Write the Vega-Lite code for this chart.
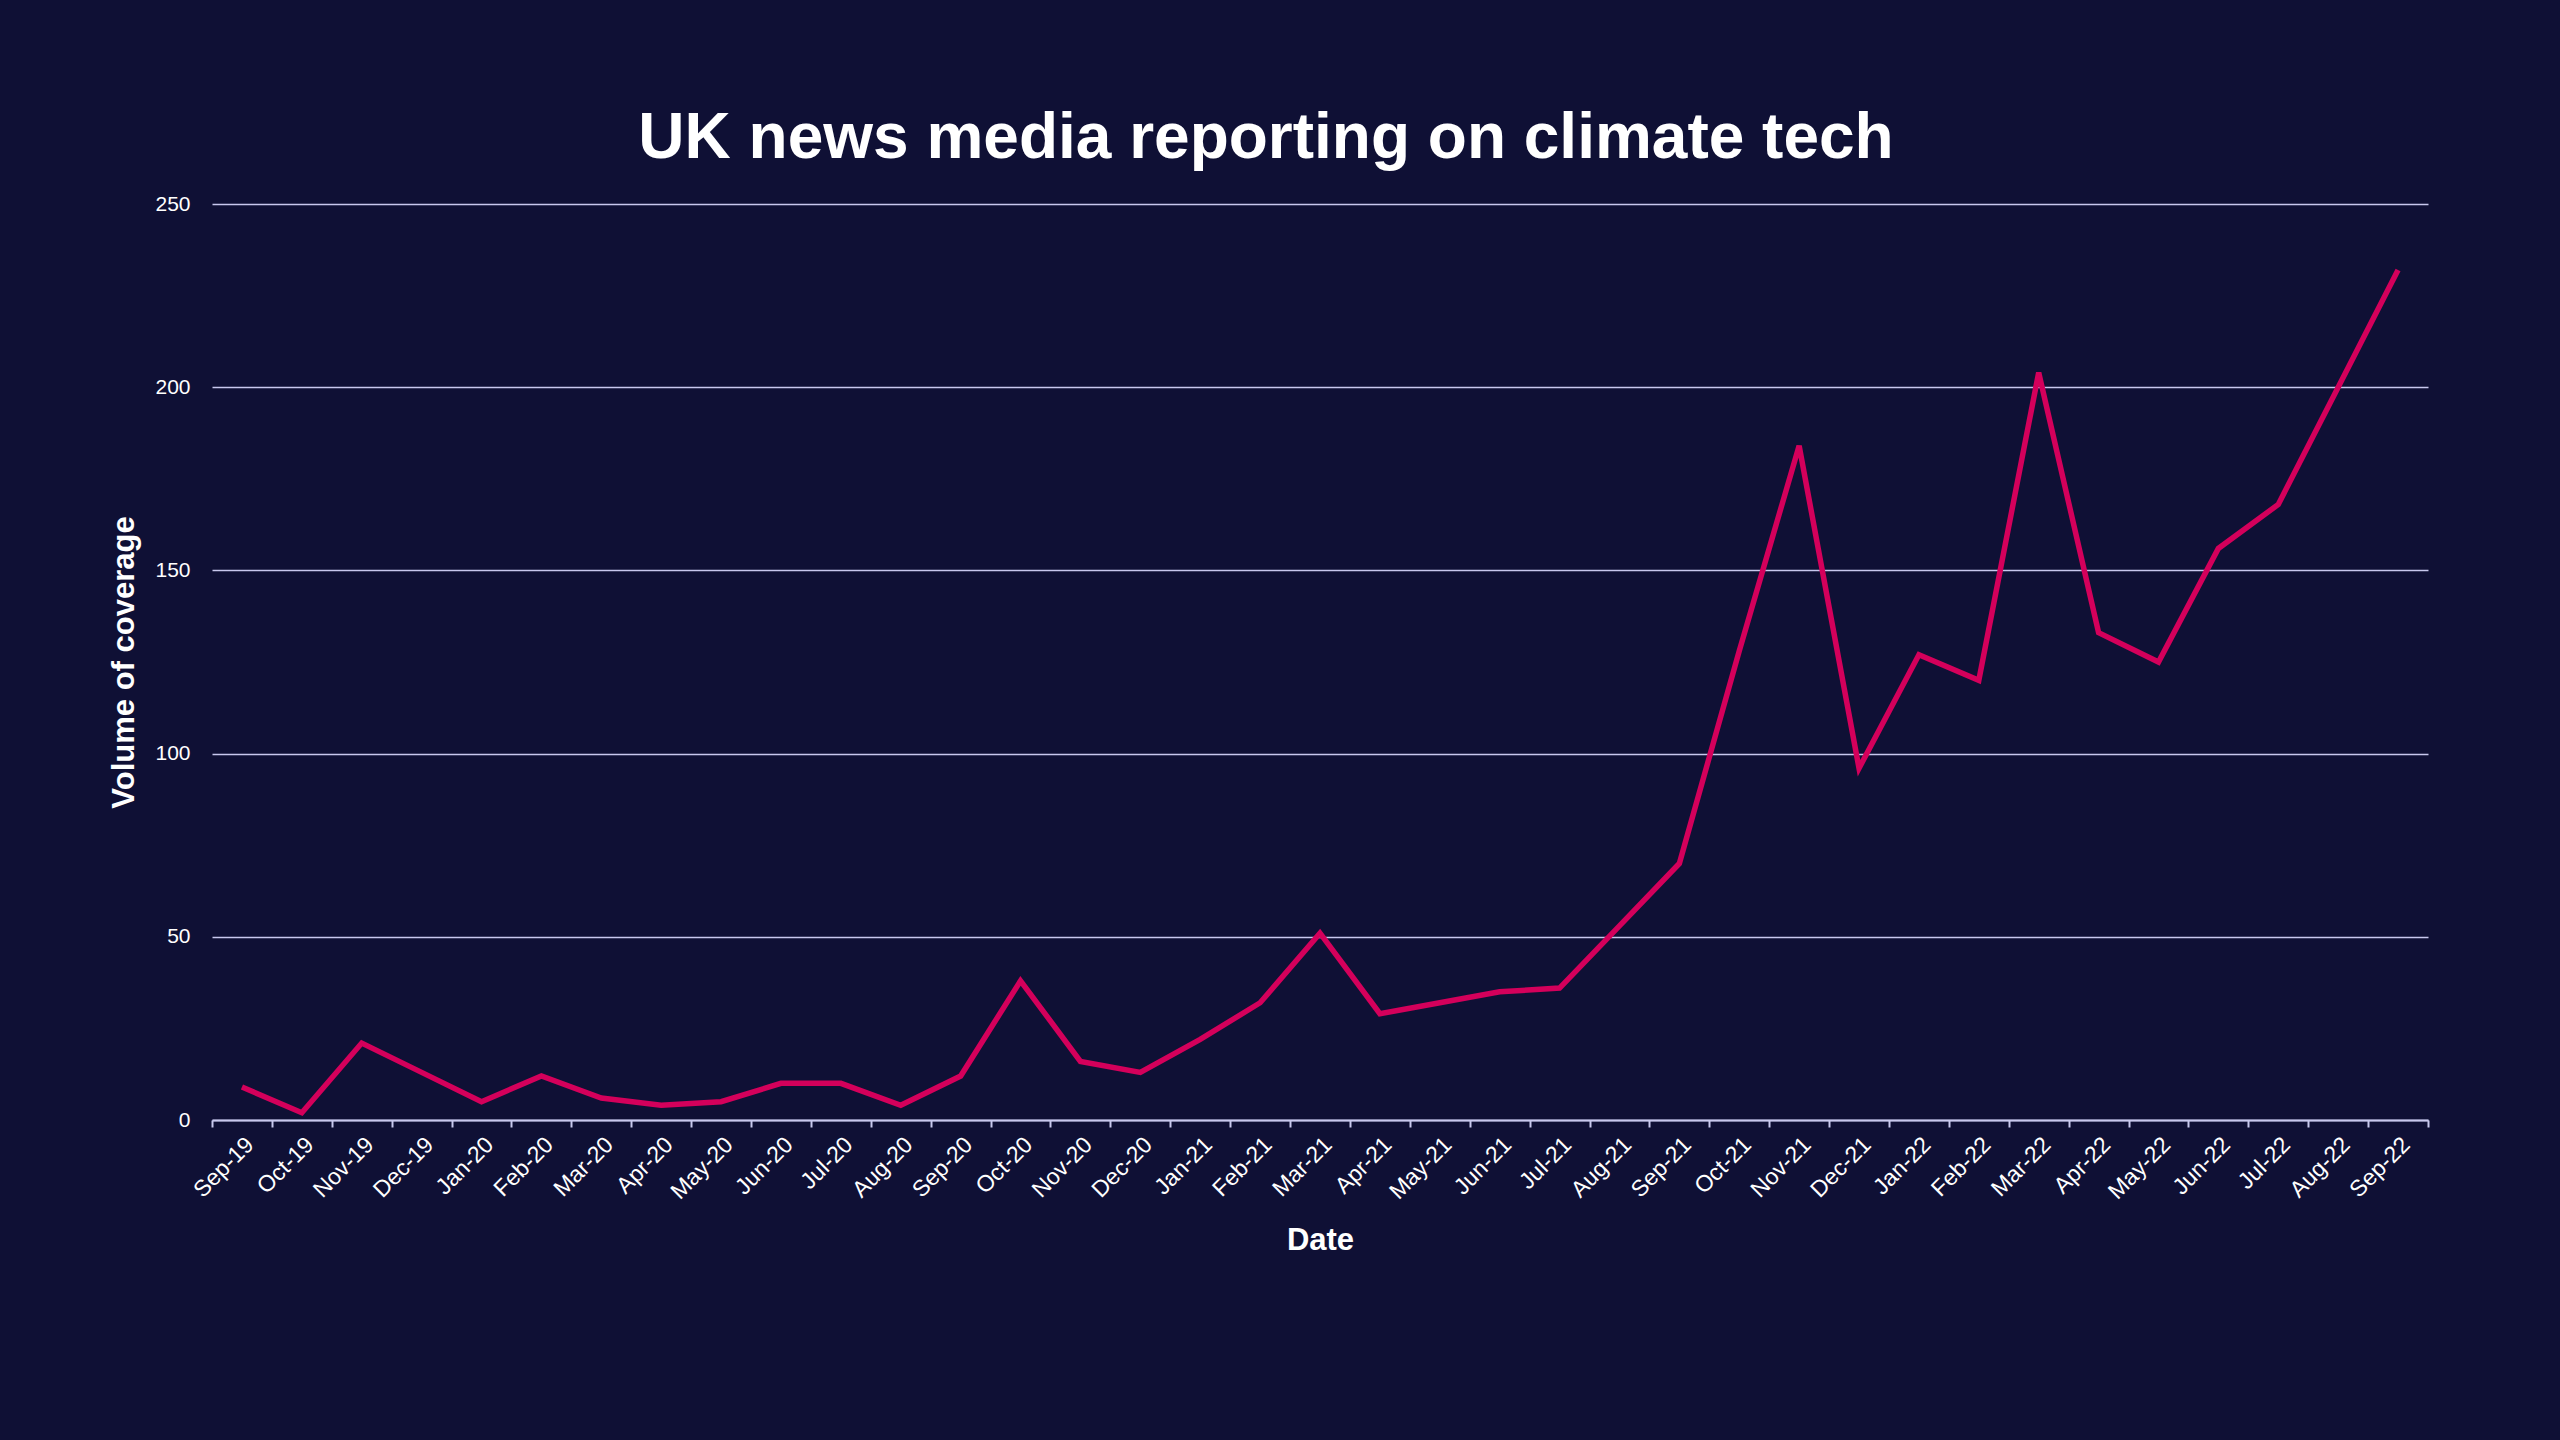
{
  "$schema": "https://vega.github.io/schema/vega-lite/v6.json",
  "background": "#0f1035",
  "autosize": "none",
  "padding": {"left": 212, "top": 204, "right": 132, "bottom": 320},
  "width": 2216,
  "height": 916,
  "title": {
    "text": "UK news media reporting on climate tech",
    "font": "Liberation Sans",
    "fontSize": 64,
    "fontWeight": "bold",
    "color": "#ffffff",
    "anchor": "middle",
    "frame": "group",
    "dx": -54,
    "dy": 74,
    "baseline": "alphabetic",
    "offset": 45
  },
  "data": {
    "values": [
      {"month": "Sep-19", "volume": 9},
      {"month": "Oct-19", "volume": 2},
      {"month": "Nov-19", "volume": 21},
      {"month": "Dec-19", "volume": 13},
      {"month": "Jan-20", "volume": 5},
      {"month": "Feb-20", "volume": 12},
      {"month": "Mar-20", "volume": 6},
      {"month": "Apr-20", "volume": 4},
      {"month": "May-20", "volume": 5},
      {"month": "Jun-20", "volume": 10},
      {"month": "Jul-20", "volume": 10},
      {"month": "Aug-20", "volume": 4},
      {"month": "Sep-20", "volume": 12},
      {"month": "Oct-20", "volume": 38},
      {"month": "Nov-20", "volume": 16},
      {"month": "Dec-20", "volume": 13},
      {"month": "Jan-21", "volume": 22},
      {"month": "Feb-21", "volume": 32},
      {"month": "Mar-21", "volume": 51},
      {"month": "Apr-21", "volume": 29},
      {"month": "May-21", "volume": 32},
      {"month": "Jun-21", "volume": 35},
      {"month": "Jul-21", "volume": 36},
      {"month": "Aug-21", "volume": 53},
      {"month": "Sep-21", "volume": 70},
      {"month": "Oct-21", "volume": 128},
      {"month": "Nov-21", "volume": 184},
      {"month": "Dec-21", "volume": 96},
      {"month": "Jan-22", "volume": 127},
      {"month": "Feb-22", "volume": 120},
      {"month": "Mar-22", "volume": 204},
      {"month": "Apr-22", "volume": 133},
      {"month": "May-22", "volume": 125},
      {"month": "Jun-22", "volume": 156},
      {"month": "Jul-22", "volume": 168},
      {"month": "Aug-22", "volume": 200},
      {"month": "Sep-22", "volume": 232}
    ]
  },
  "mark": {"type": "line", "color": "#d4005b", "strokeWidth": 5.5, "strokeJoin": "miter"},
  "encoding": {
    "x": {
      "field": "month",
      "type": "nominal",
      "sort": null,
      "bandPosition": 0.5,
      "scale": {"type": "band", "paddingInner": 0, "paddingOuter": 0},
      "title": "Date",
      "axis": {
        "tickBand": "extent",
        "labelAngle": -45,
        "labelFont": "Liberation Sans",
        "labelFontSize": 23,
        "labelColor": "#ffffff",
        "labelPadding": 6,
        "domainColor": "#c8c8ee",
        "domainWidth": 2,
        "tickColor": "#c8c8ee",
        "tickWidth": 2,
        "tickSize": 7,
        "grid": false,
        "titleFont": "Liberation Sans",
        "titleFontSize": 31,
        "titleFontWeight": "bold",
        "titleColor": "#ffffff",
        "titlePadding": 22
      }
    },
    "y": {
      "field": "volume",
      "type": "quantitative",
      "title": "Volume of coverage",
      "scale": {"domain": [0, 250]},
      "axis": {
        "values": [0, 50, 100, 150, 200, 250],
        "domain": false,
        "ticks": false,
        "labelPadding": 22,
        "labelFont": "Liberation Sans",
        "labelFontSize": 21,
        "labelColor": "#ffffff",
        "gridColor": "#c8c8ee",
        "gridWidth": 1.5,
        "titleFont": "Liberation Sans",
        "titleFontSize": 31,
        "titleFontWeight": "bold",
        "titleColor": "#ffffff",
        "titlePadding": 14
      }
    }
  },
  "config": {"view": {"stroke": null}}
}
